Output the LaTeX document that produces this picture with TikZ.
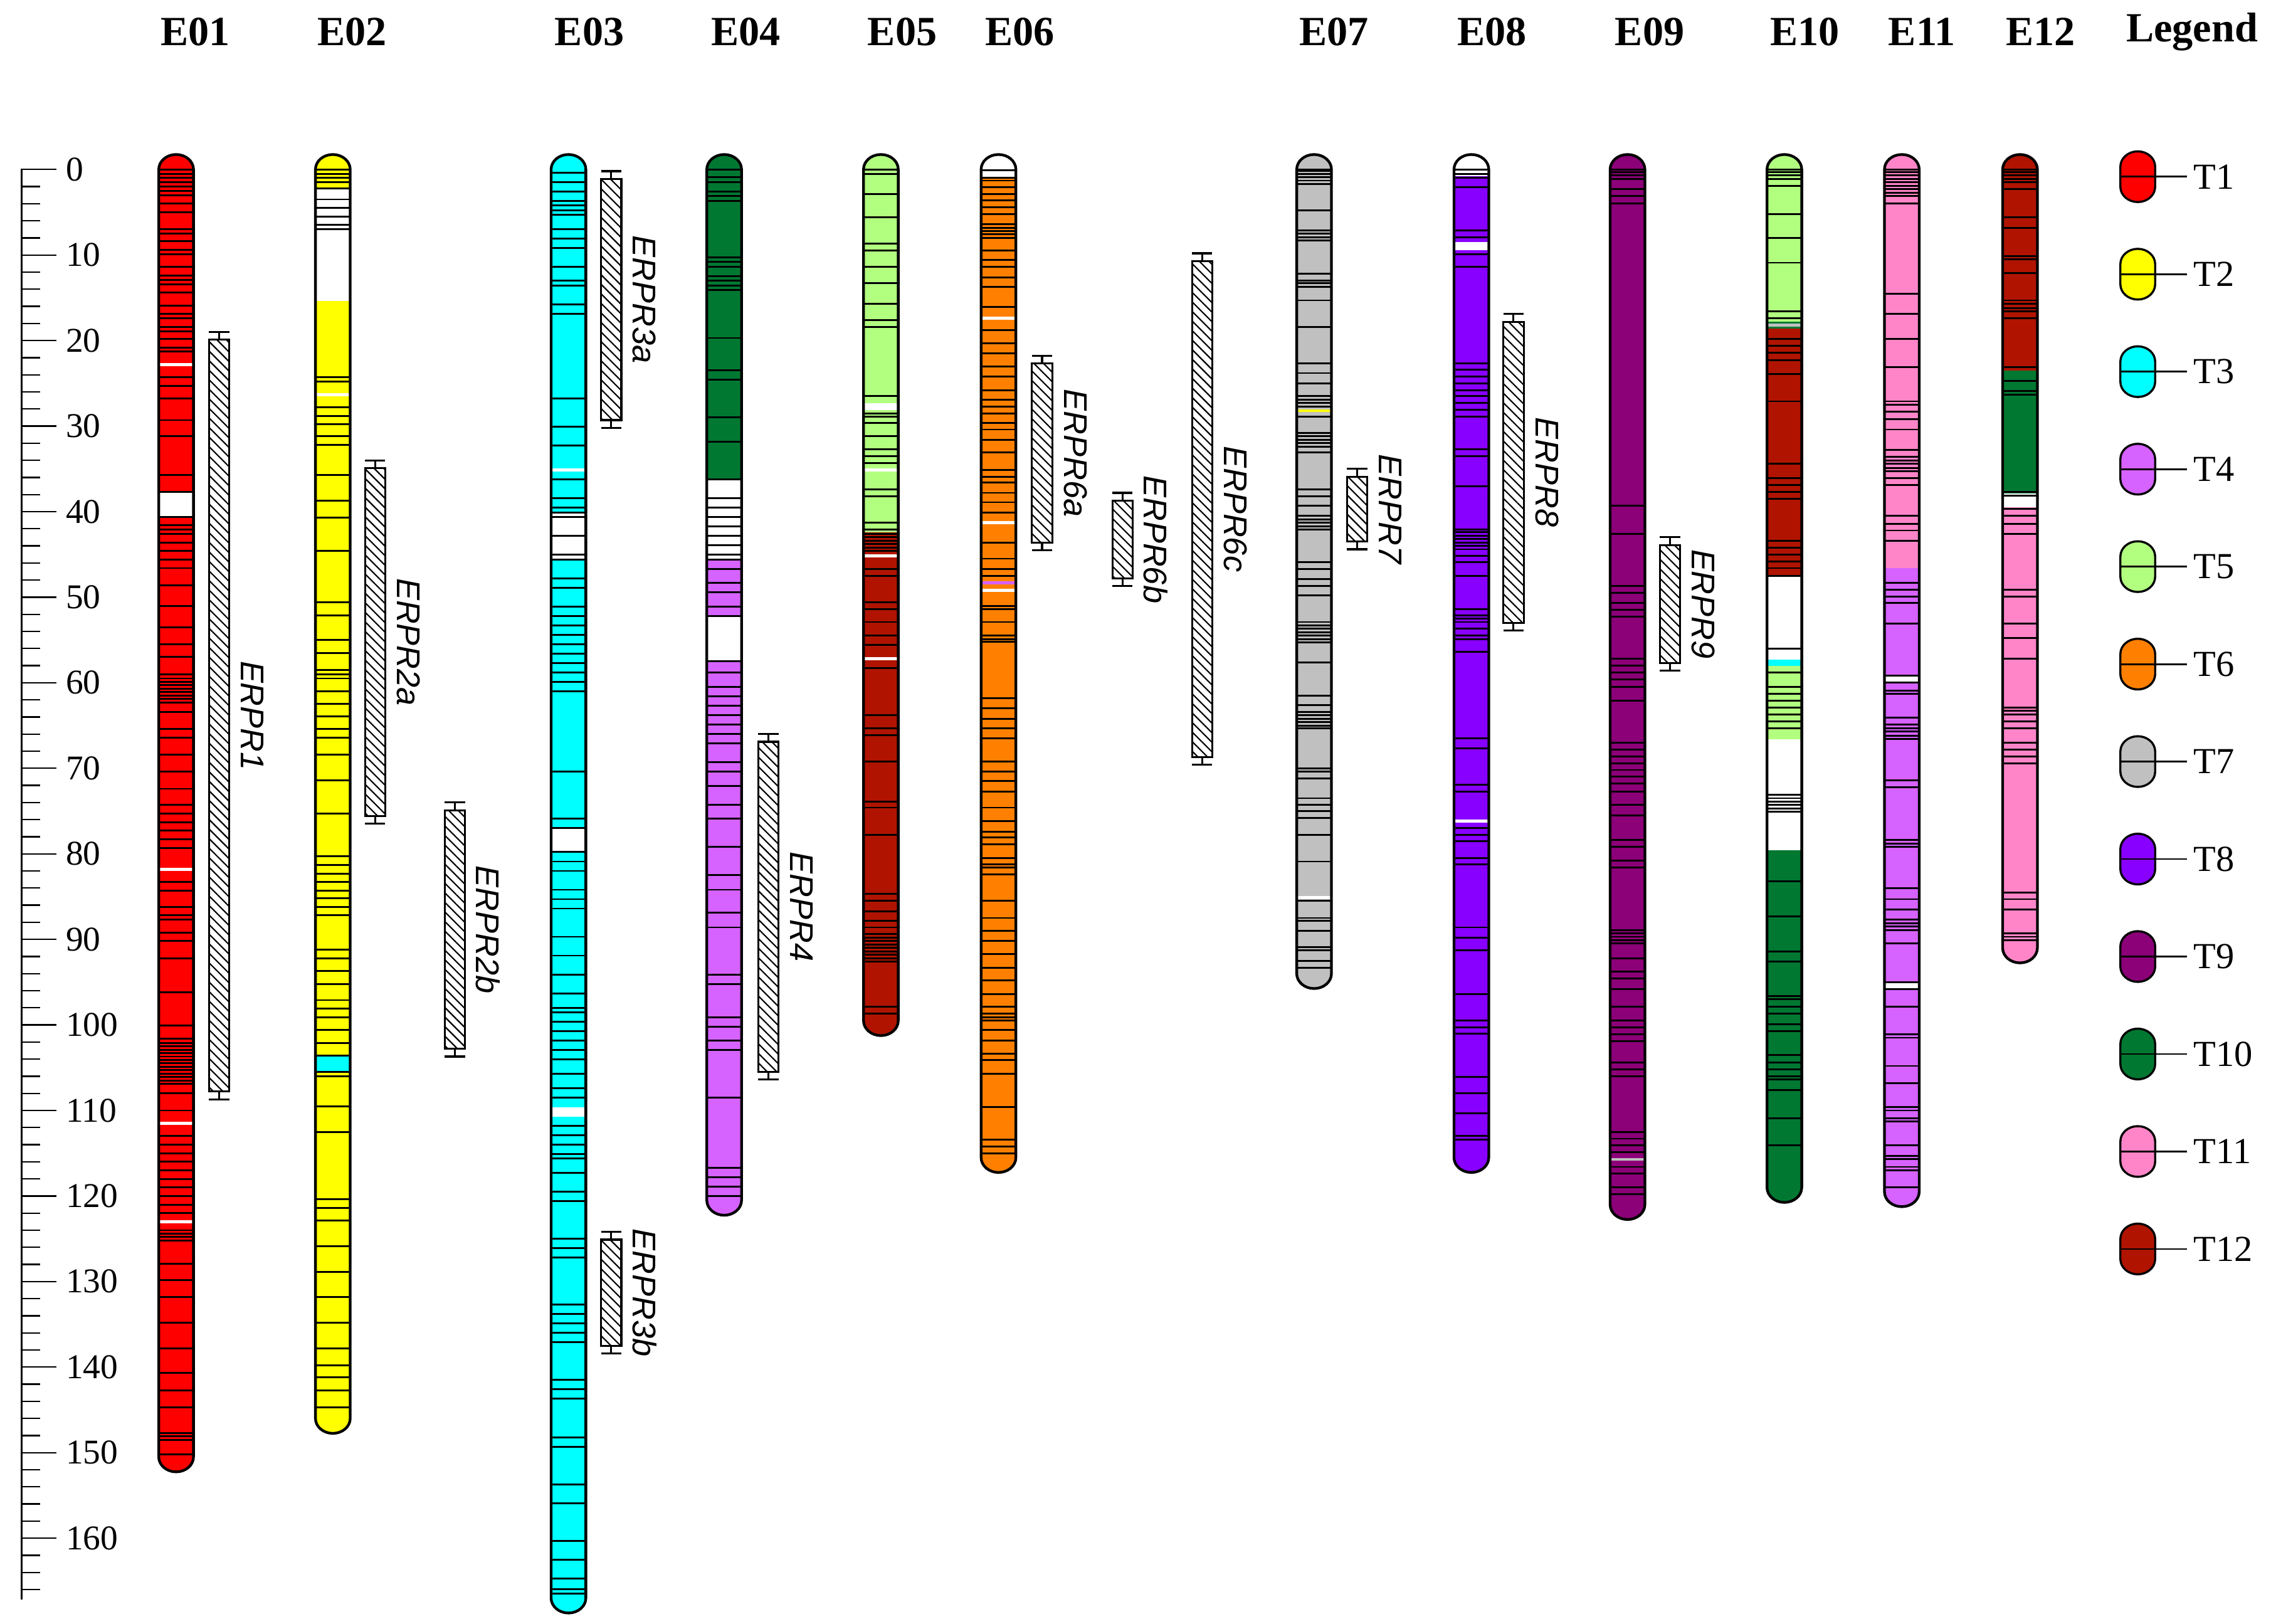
\documentclass[tikz,border=0pt]{standalone}
\usepackage{fontspec}
\setmainfont{Liberation Serif}
\newfontfamily\qtlfont{Liberation Sans}
\usetikzlibrary{patterns.meta}

\definecolor{tone1}{RGB}{255,0,0}
\definecolor{tone2}{RGB}{255,255,0}
\definecolor{tone3}{RGB}{0,255,255}
\definecolor{tone4}{RGB}{214,98,255}
\definecolor{tone5}{RGB}{178,255,128}
\definecolor{tone6}{RGB}{255,128,0}
\definecolor{tone7}{RGB}{192,192,192}
\definecolor{tone8}{RGB}{136,0,255}
\definecolor{tone9}{RGB}{140,0,120}
\definecolor{tone10}{RGB}{0,120,50}
\definecolor{tone11}{RGB}{255,133,200}
\definecolor{tone12}{RGB}{176,20,0}

\tikzset{every picture/.style={line width=0.75pt}}
\tikzset{
  mk/.style={line width=0.95pt},
  gapline/.style={white,line width=1.6pt},
  chrline/.style={line width=1.4pt},
  qtlbox/.style={draw,line width=1pt,pattern={Lines[angle=-45,distance=3.5pt,line width=0.7pt]}},
  qtlcap/.style={line width=1pt},
  qtllab/.style={font=\qtlfont\itshape\fontsize{17}{20}\selectfont,rotate=-90,inner sep=0.75pt},
  hdr/.style={font=\bfseries\fontsize{21.5}{26}\selectfont,inner sep=0.75pt},
  scalelab/.style={font=\fontsize{18}{21}\selectfont,anchor=west,inner sep=0.75pt},
  keylab/.style={font=\fontsize{19}{22}\selectfont,anchor=west,inner sep=3pt},
}

% chromosome body, length #1 in cM
\newcommand{\chrshape}[1]{(-12,0) arc (180:360:12 and 1.75) -- (12,#1) arc (0:180:12 and 1.75) -- cycle}
% legend swatch
\newcommand{\keyshape}{(-12,-7) arc (180:360:12 and 10.5) -- (12,7) arc (0:180:12 and 10.5) -- cycle}
% marker rows and coloured blocks
\newcommand{\mkrows}[2][mk]{\foreach \m in {#2} {\draw[#1] (-13,\m) -- (13,\m);}}
\newcommand{\segfill}[3]{\fill[#1] (-13,#2) rectangle (13,#3);}
% QTL interval: x, top, bottom, label
\newcommand{\qtlbar}[4]{%
  \draw[qtlbox] ({#1-7},{#2+0.9}) rectangle ({#1+7},{#3-0.9});
  \draw[qtlcap] ({#1-7},#2) -- ({#1+7},#2) (#1,#2) -- (#1,{#2+0.9})
    ({#1-7},#3) -- ({#1+7},#3) (#1,#3) -- (#1,{#3-0.9});
  \node[qtllab] (#4) at ({#1+23},{(#2+#3)/2}) {#4};
}

\begin{document}
\begin{tikzpicture}[x=0.75pt,y=0.75pt,yscale=-1,xscale=1]
	\useasboundingbox (0,0) rectangle (1568,1121);
	
	% Text Node
	\node[hdr] (hE01) at (135,22) {E01};
	\node[hdr] (hE02) at (243,22) {E02};
	\node[hdr] (hE03) at (407,22) {E03};
	\node[hdr] (hE04) at (515,22) {E04};
	\node[hdr] (hE05) at (623,22) {E05};
	\node[hdr] (hE06) at (704,22) {E06};
	\node[hdr] (hE07) at (921,22) {E07};
	\node[hdr] (hE08) at (1030,22) {E08};
	\node[hdr] (hE09) at (1139,22) {E09};
	\node[hdr] (hE10) at (1246,22) {E10};
	\node[hdr] (hE11) at (1327,22) {E11};
	\node[hdr] (hE12) at (1409,22) {E12};
	\node[hdr] (hLeg) at (1513.5,22) {Legend};
	
	%Scale bar
	\begin{scope}[shift={(15,117)},yscale=5.906]
		\draw[line width=1.2pt] (0,-0.1) -- (0,167.2);
		\foreach \t in {0,2,...,166} \draw (0,\t) -- (12.5,\t);
		\foreach \t in {0,10,...,160} {
			\draw (0,\t) -- (24,\t);
			\node[scalelab] (sc\t) at (29,\t) {\t};
		}
	\end{scope}
	
	%Chromosome E01
	\begin{scope}[shift={(121.6,117)},yscale=5.906]
		\begin{scope}
			\clip \chrshape{150.5};
			\segfill{tone1}{-3}{153}
			\segfill{white}{37.7}{40.6}
			\mkrows{0,0.5,1,1.5,2,2.5,3,4,5,7,7.5,8.4,9.4,9.9,11.4,12.4,12.9,13.4,14.4,15.9,16.9,17.4,18.4,18.9,19.8,20.8,21.3,24.3,25.3,26.8,29.3,31.2,35.7,37.7,40.6,41.6,42.1,42.6,43.6,44.6,45.6,46.6,48.6,51,53.5,55.5,57,59,63.4,65.4,66.4,68.4,70.4,72.4,74.3,75.3,76.3,77.3,78.3,79.3,83.3,84.3,86.2,87.2,87.7,89.2,90.2,92.2,96.2,100.1,101.6,108,110,113,114,115,116,117,118,119,120,121,122,127.9,129.8,131.8,134.8,137.8,140.7,142.7,144.7,150.2}
			\mkrows{59.5,59.9,...,62.5}
			\mkrows{102.1,102.5,...,107.1}
			\mkrows{124,124.4,...,125.5}
			\mkrows{147.7,148.1,...,148.8}
			\mkrows[gapline]{22.8,81.8,111.5,123}
		\end{scope}
		\draw[chrline] \chrshape{150.5};
	\end{scope}
	
	%Chromosome E02
	\begin{scope}[shift={(229.8,117)},yscale=5.906]
		\begin{scope}
			\clip \chrshape{146};
			\segfill{tone2}{-3}{149}
			\segfill{white}{2.2}{15.4}
			\segfill{tone3}{103.6}{105.5}
			\mkrows{0,0.5,1,1.5,2.2,3.5,4.5,5.5,6.5,7,24.3,24.8,27.8,28.8,29.8,31.2,32.2,35.7,38.7,40.7,44.6,50.6,52.1,55,56.5,58.5,59,59.5,61,62.5,63.9,65.4,66.4,68.4,71.4,75.3,80.3,81.3,82.3,83.3,84.3,85.2,86.2,87.2,91.2,92.2,93.7,95.2,97.1,98.1,99.1,100.6,102.1,103.6,105.5,106,109.5,112.5,120.4,121.4,122.9,125.9,128.9,131.8,134.8,137.8,139.8,141.2,142.7,144.7}
			\mkrows[gapline]{26.3}
		\end{scope}
		\draw[chrline] \chrshape{146};
	\end{scope}
	
	%Chromosome E03
	\begin{scope}[shift={(392.5,117)},yscale=5.906]
		\begin{scope}
			\clip \chrshape{167};
			\segfill{tone3}{-3}{170}
			\segfill{white}{40.1}{45.6}
			\segfill{white}{77}{79.8}
			\segfill{white}{109.6}{110.7}
			\mkrows{0.4,1.5,2.6,3.7,4.2,4.8,5.3,7,8.1,9.2,11.4,13,13.6,15.8,16.9,26.8,30.1,32.3,36.2,38.4,39.5,40.1,40.6,42.8,45,45.6,47.8,48.9,51.1,52.2,53.3,54.4,55.5,56.6,57.7,58.8,59.9,61,70.4,75.9,77,79.8,80.9,82,84.2,85.3,86.4,89.7,91.9,94.1,96.3,98,98.5,99.6,100.7,101.8,102.9,104,105.7,107.4,108.5,111.8,112.9,114,115.1,115.6,117.3,119.5,120.6,125,126.1,127.2,132.7,133.8,134.9,136,137.1,141.5,142.6,143.7,148.2,149.3,153.7,155.9,160.3,162.5,164.7,166,166.5}
			\mkrows[gapline]{35.1}
		\end{scope}
		\draw[chrline] \chrshape{167};
	\end{scope}
	
	%Chromosome E04
	\begin{scope}[shift={(500,117)},yscale=5.906]
		\begin{scope}
			\clip \chrshape{120.5};
			\segfill{tone4}{-3}{124}
			\segfill{tone10}{-3}{36.2}
			\segfill{white}{36.2}{45.6}
			\segfill{white}{52.2}{57.5}
			\mkrows{0,0.9,1.5,2.6,3.1,3.7,10.3,10.8,11.4,12.5,13,13.6,14.1,19.7,23.5,24.6,29,31.8,36.2,38.4,39.5,40.6,41.7,42.8,43.9,45,45.6,46.7,48.3,49.4,51.1,52.2,57.5,58.8,60.5,61.6,62.7,63.8,64.9,66,67.1,69.3,70.4,72.1,74.3,75.9,79.2,82.5,84.2,86.9,88.6,94.1,95.2,99.1,100.2,101.8,102.9,108.5,116.7,117.8,118.9,120}
		\end{scope}
		\draw[chrline] \chrshape{120.5};
	\end{scope}
	
	%Chromosome E05
	\begin{scope}[shift={(608.2,117)},yscale=5.906]
		\begin{scope}
			\clip \chrshape{99.5};
			\segfill{tone12}{-3}{103}
			\segfill{tone5}{-3}{42.4}
			\segfill{white}{27.3}{28.1}
			\mkrows{0,0.5,2.9,5.6,8.7,9.5,11.4,13.3,15.7,17.6,18.4,26.5,28.5,28.9,29.6,31.2,32.7,33.5,34.3,37.4,38.2,41.3,42.1,46.7,47.5,50.6,51.4,52.9,54.5,55.6,58.3,63.8,65.3,66.1,69.2,73.9,74.6,77.8,84.7,85.5,86.7,87.8,88.6,97.9,98.7}
			\mkrows{42.6,43,...,44.8}
			\mkrows{89.4,89.8,...,92.9}
			\mkrows[gapline]{35.1,45.2,57.2}
		\end{scope}
		\draw[chrline] \chrshape{99.5};
	\end{scope}
	
	%Chromosome E06
	\begin{scope}[shift={(689.4,117)},yscale=5.906]
		\begin{scope}
			\clip \chrshape{115.5};
			\segfill{tone6}{-3}{119}
			\segfill{white}{-3}{1}
			\mkrows{0.1,1,1.3,2.1,2.9,3.6,4.4,5.2,9.5,10.6,11.4,12.6,13.7,16.1,18.8,20.3,21.5,23,24.2,25.8,26.9,27.7,28.5,29.6,30.4,31.6,33.1,35.1,35.9,36.6,37.8,38.9,40.1,43.6,45.5,46.7,47.5,51,51.4,52.9,54.5,54.9,55.2,61.8,63,64.2,65.3,66.5,69.2,70.4,71.5,72.7,74.6,76.2,77.4,78.1,78.9,80.5,81.2,81.6,82.4,85.5,87.5,89,90.2,91.7,93.3,94.8,96.4,97.9,98.7,99.1,99.5,100.6,101.8,103.4,104.1,105.7,109.6,113.4,114.2,115}
			\mkrows{6.4,6.8,...,8.3}
			\mkrows[gapline]{17.4,41.3,49.2}
			\mkrows[tone4,line width=1.5pt]{48.3}
		\end{scope}
		\draw[chrline] \chrshape{115.5};
	\end{scope}
	
	%Chromosome E07
	\begin{scope}[shift={(907.3,117)},yscale=5.906]
		\begin{scope}
			\clip \chrshape{94};
			\segfill{tone7}{-3}{97}
			\mkrows{0,0.2,0.5,0.9,1.3,1.7,4.8,7.1,7.5,7.9,8.3,12.2,13,13.3,13.7,15.3,18.4,22.7,23.8,25,26.5,26.9,27.3,27.7,28.9,30.8,31.2,31.6,32,32.4,33.1,37.4,38.2,39.3,40.5,40.9,41.3,41.7,42.1,45.9,46.7,47.9,48.7,49.8,57.6,61.5,62.6,63.4,63.8,64.2,64.6,65,65.3,70,70.4,71.2,73.5,74.3,75,75.8,77.8,80.9,85.5,87.5,87.8,89,90.9,91.3,92.5,93.3}
			\mkrows{52.9,53.3,...,55.6}
			\mkrows[tone2,line width=1.5pt]{28.2}
			\mkrows[gapline]{85.1}
		\end{scope}
		\draw[chrline] \chrshape{94};
	\end{scope}
	
	%Chromosome E08
	\begin{scope}[shift={(1015.9,117)},yscale=5.906]
		\begin{scope}
			\clip \chrshape{115.5};
			\segfill{tone8}{-3}{119}
			\segfill{white}{-3}{0.8}
			\segfill{white}{8.5}{9.4}
			\mkrows{0,0.5,1,2.1,7.1,7.9,9.9,11.4,22.7,23.4,24.2,25,25.8,26.5,27.3,28.1,28.9,32.7,33.5,37,42.1,42.4,42.8,43.2,43.6,44,44.4,45.2,45.9,47.5,51.4,52.1,52.5,52.9,53.7,54.5,54.9,56.4,66.5,67.7,71.9,72.7,77,77.8,78.5,80.5,81.2,88.6,89.8,91.3,96.4,99.5,100.3,101,106.1,108,110.3,113,113.4}
			\mkrows[gapline]{76.2}
		\end{scope}
		\draw[chrline] \chrshape{115.5};
	\end{scope}
	
	%Chromosome E09
	\begin{scope}[shift={(1123.7,117)},yscale=5.906]
		\begin{scope}
			\clip \chrshape{121};
			\segfill{tone9}{-3}{124}
			\mkrows{0,0.3,0.7,1.1,2.3,3.1,4,39.3,42.6,48.7,49.5,50.7,51.5,52.3,57.2,58,58.8,59.6,60.5,62.1,67,67.8,68.6,69.4,70.2,71,71.8,72.7,74.3,75.5,78.4,79.2,80.8,81.6,92.2,93.8,94.6,95.8,97.9,99.5,100.3,101.1,101.9,104.4,105.2,106,112.5,113.3,114.1,114.9,116.6,117.4,119,119.8}
			\mkrows{88.9,89.3,...,90.6}
			\mkrows[tone7,line width=1.2pt]{115.7}
		\end{scope}
		\draw[chrline] \chrshape{121};
	\end{scope}
	
	%Chromosome E10
	\begin{scope}[shift={(1232,117)},yscale=5.906]
		\begin{scope}
			\clip \chrshape{119};
			\segfill{tone10}{-3}{122}
			\segfill{tone5}{-3}{17.8}
			\segfill{tone12}{18.6}{47.5}
			\segfill{white}{47.5}{57.3}
			\segfill{tone3}{57.3}{58}
			\segfill{tone5}{58}{66.6}
			\segfill{white}{66.6}{79.6}
			\mkrows{0,0.3,0.7,1.1,1.9,5.2,8,10.9,16.6,17.4,19.8,20.6,21.4,22.3,23.9,27.1,34.4,36.1,36.9,37.7,38.5,43.4,44.2,45,45.8,46.6,47.5,56,58.8,60.5,61.3,62.1,62.9,63.7,64.5,65.3,83.2,87.3,91.4,92.6,96.6,97,97.9,98.7,99.9,100.7,103.5,104.4,105.2,106,106.4,107.6,110.9,114.1}
			\mkrows{73.1,73.5,...,75.1}
			\mkrows[tone7,line width=1.5pt]{18.2}
		\end{scope}
		\draw[chrline] \chrshape{119};
	\end{scope}
	
	%Chromosome E11
	\begin{scope}[shift={(1313.1,117)},yscale=5.906]
		\begin{scope}
			\clip \chrshape{119.5};
			\segfill{tone4}{-3}{123}
			\segfill{tone11}{-3}{46.6}
			\segfill{white}{59.2}{60}
			\segfill{white}{95}{95.8}
			\mkrows{0,0.3,0.7,1.1,1.5,1.9,2.3,2.7,3.1,4,14.5,16.9,19.8,23.1,27.1,27.5,28.3,29.2,30.4,32.8,33.6,34,34.4,34.9,35.3,36.1,36.9,40.5,41.4,42.2,43.4,48.3,49.1,49.9,50.7,53.1,59.2,60,60.9,61.3,64.1,64.9,65.3,65.7,66.2,66.6,71.4,72.2,78.4,78.8,79.2,84,85.3,86.5,87.7,88.1,88.5,88.9,90.5,95,95.8,97.9,101.1,101.5,104.8,106.8,109.6,110,110.9,111.3,114.1,115.3,115.7,116.6,117,119}
		\end{scope}
		\draw[chrline] \chrshape{119.5};
	\end{scope}
	
	%Chromosome E12
	\begin{scope}[shift={(1394.7,117)},yscale=5.906]
		\begin{scope}
			\clip \chrshape{91};
			\segfill{tone11}{-3}{94}
			\segfill{tone12}{-3}{23.5}
			\segfill{tone10}{23.5}{37.9}
			\segfill{white}{37.9}{39.5}
			\mkrows{0,0.3,0.7,1.1,1.5,2.3,5.6,6.8,10.1,10.5,12.1,15.3,15.7,16.2,16.6,17.4,23.1,24.7,25.9,26.3,37.7,38.1,39.7,40.5,41.4,42.6,49.1,49.9,53.1,54.8,57.2,62.9,63.3,63.7,64.5,65.3,67,67.8,68.6,69.4,84.5,85.3,86.5,89.3,89.7,90.1}
		\end{scope}
		\draw[chrline] \chrshape{91};
	\end{scope}
	
	%QTL intervals
	\begin{scope}[shift={(0,117)},yscale=5.906]
		\qtlbar{151.3}{19}{108.7}{ERPR1}
		\qtlbar{259}{34}{76.5}{ERPR2a}
		\qtlbar{314}{74}{103.7}{ERPR2b}
		\qtlbar{422}{0.2}{30.2}{ERPR3a}
		\qtlbar{422}{124.2}{138.4}{ERPR3b}
		\qtlbar{530.5}{66}{106.4}{ERPR4}
		\qtlbar{719.5}{21.8}{44.5}{ERPR6a}
		\qtlbar{775}{37.8}{48.7}{ERPR6b}
		\qtlbar{830}{9.8}{69.6}{ERPR6c}
		\qtlbar{937}{35}{44.4}{ERPR7}
		\qtlbar{1045}{16.9}{53.9}{ERPR8}
		\qtlbar{1153}{43}{58.6}{ERPR9}
	\end{scope}
	
	%Legend
	\foreach \k in {1,...,12} {
		\pgfmathsetmacro{\ky}{122+67.3*(\k-1)}
		\begin{scope}[shift={(1476,\ky)}]
			\filldraw[fill=tone\k,line width=1.1pt] \keyshape;
		\end{scope}
		\coordinate (kin\k) at (1464,\ky);
		\node[keylab] (key\k) at (1510,\ky) {T\k};
		\draw[line width=0.9pt] (kin\k) -- (key\k.west);
	}
	
\end{tikzpicture}
\end{document}
